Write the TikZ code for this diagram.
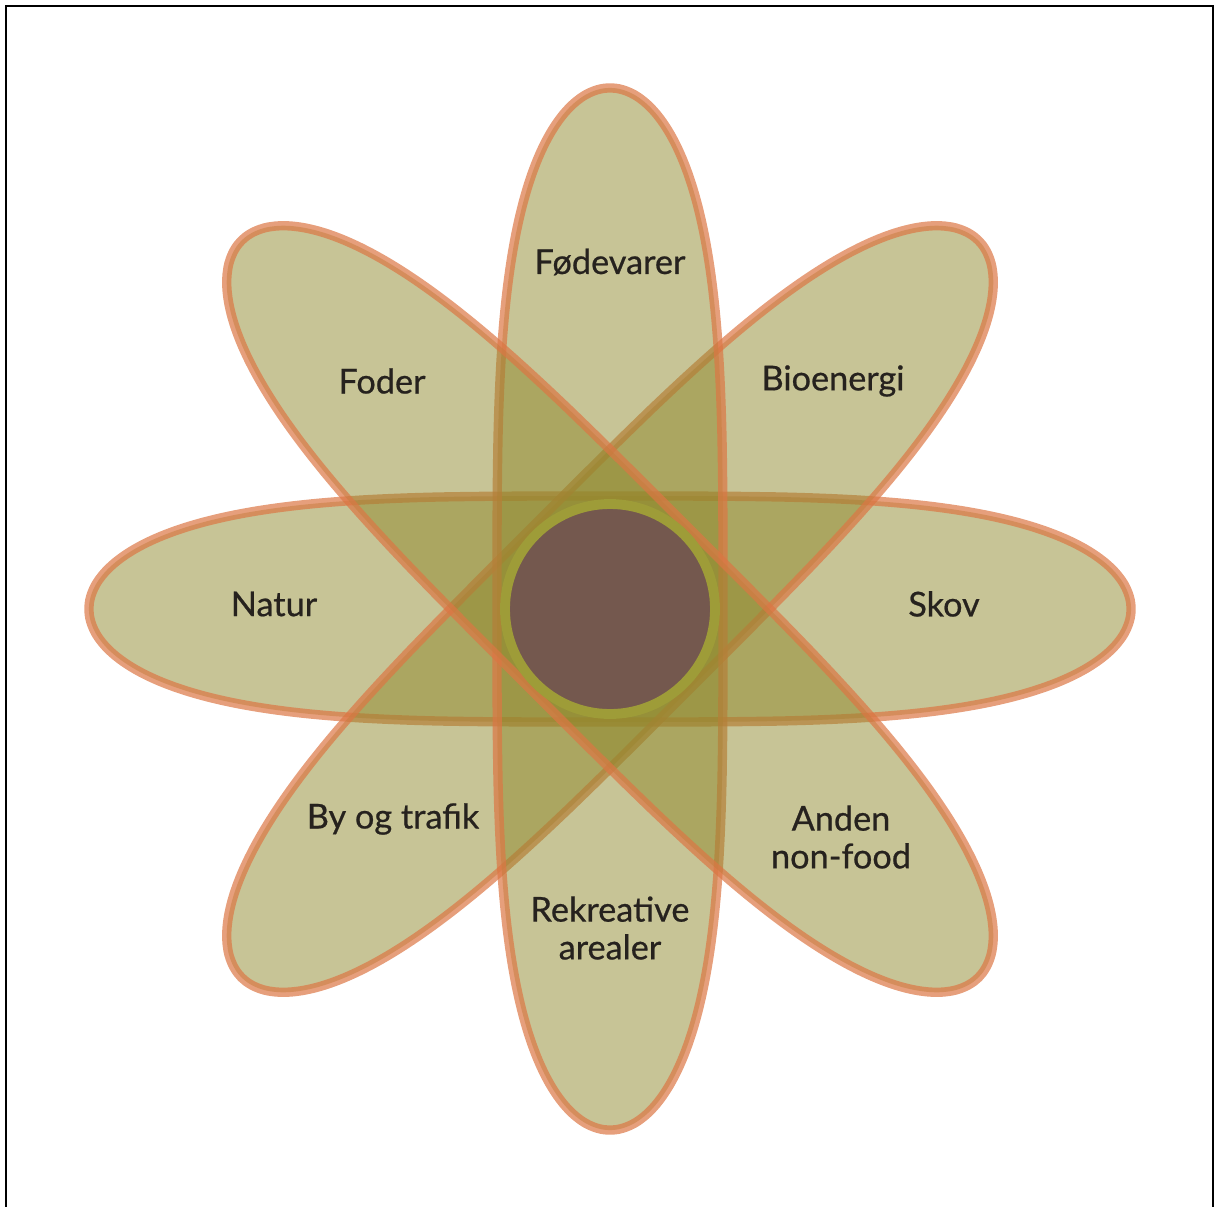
\documentclass[tikz,border=0pt]{standalone}
\usepackage{fontspec}
\setmainfont{Lato}[FakeBold=0.6]
\definecolor{petalfill}{RGB}{143,137,45}
\definecolor{petaledge}{RGB}{220,118,68}
\definecolor{hub}{RGB}{116,88,78}
\definecolor{hubring}{RGB}{158,156,56}
\definecolor{labeltext}{RGB}{38,34,30}
\tikzset{
  petal/.style={draw=petaledge,line width=5.3pt,fill=petalfill,fill opacity=0.5,draw opacity=0.7},
  lbl/.style={text=labeltext,font=\fontsize{19.5}{21.5}\selectfont,align=center}
}
\begin{document}
\begin{tikzpicture}[x=0.02cm,y=-0.02cm]
\useasboundingbox (0,0) rectangle (1214,1207);
\draw[line width=1.6pt] (6,1215) -- (6,6) -- (1213,6) -- (1213,1215);

\coordinate (c) at (610,609);
\foreach \a in {0,45,90,135}
  \draw[petal,shift={(c)},rotate=\a]
    plot[domain=0.5:359.5,samples=360]
      ({521*sign(cos(\x))*pow(abs(cos(\x)),0.556)},{113*sin(\x)}) -- cycle;
\draw[fill=hub,draw=hubring,line width=5.6pt] (c) circle (105);

\node[lbl] (fodevarer) at (610,262) {Fødevarer};
\node[lbl] (foder) at (382,381) {Foder};
\node[lbl] (bioenergi) at (833,381) {Bioenergi};
\node[lbl] (natur) at (274,604) {Natur};
\node[lbl] (skov) at (944,604) {Skov};
\node[lbl] (bytrafik) at (393,819) {By og trafik};
\node[lbl] (nonfood) at (841,837) {Anden\\non-food};
\node[lbl] (rekreative) at (610,928) {Rekreative\\arealer};
\end{tikzpicture}
\end{document}
